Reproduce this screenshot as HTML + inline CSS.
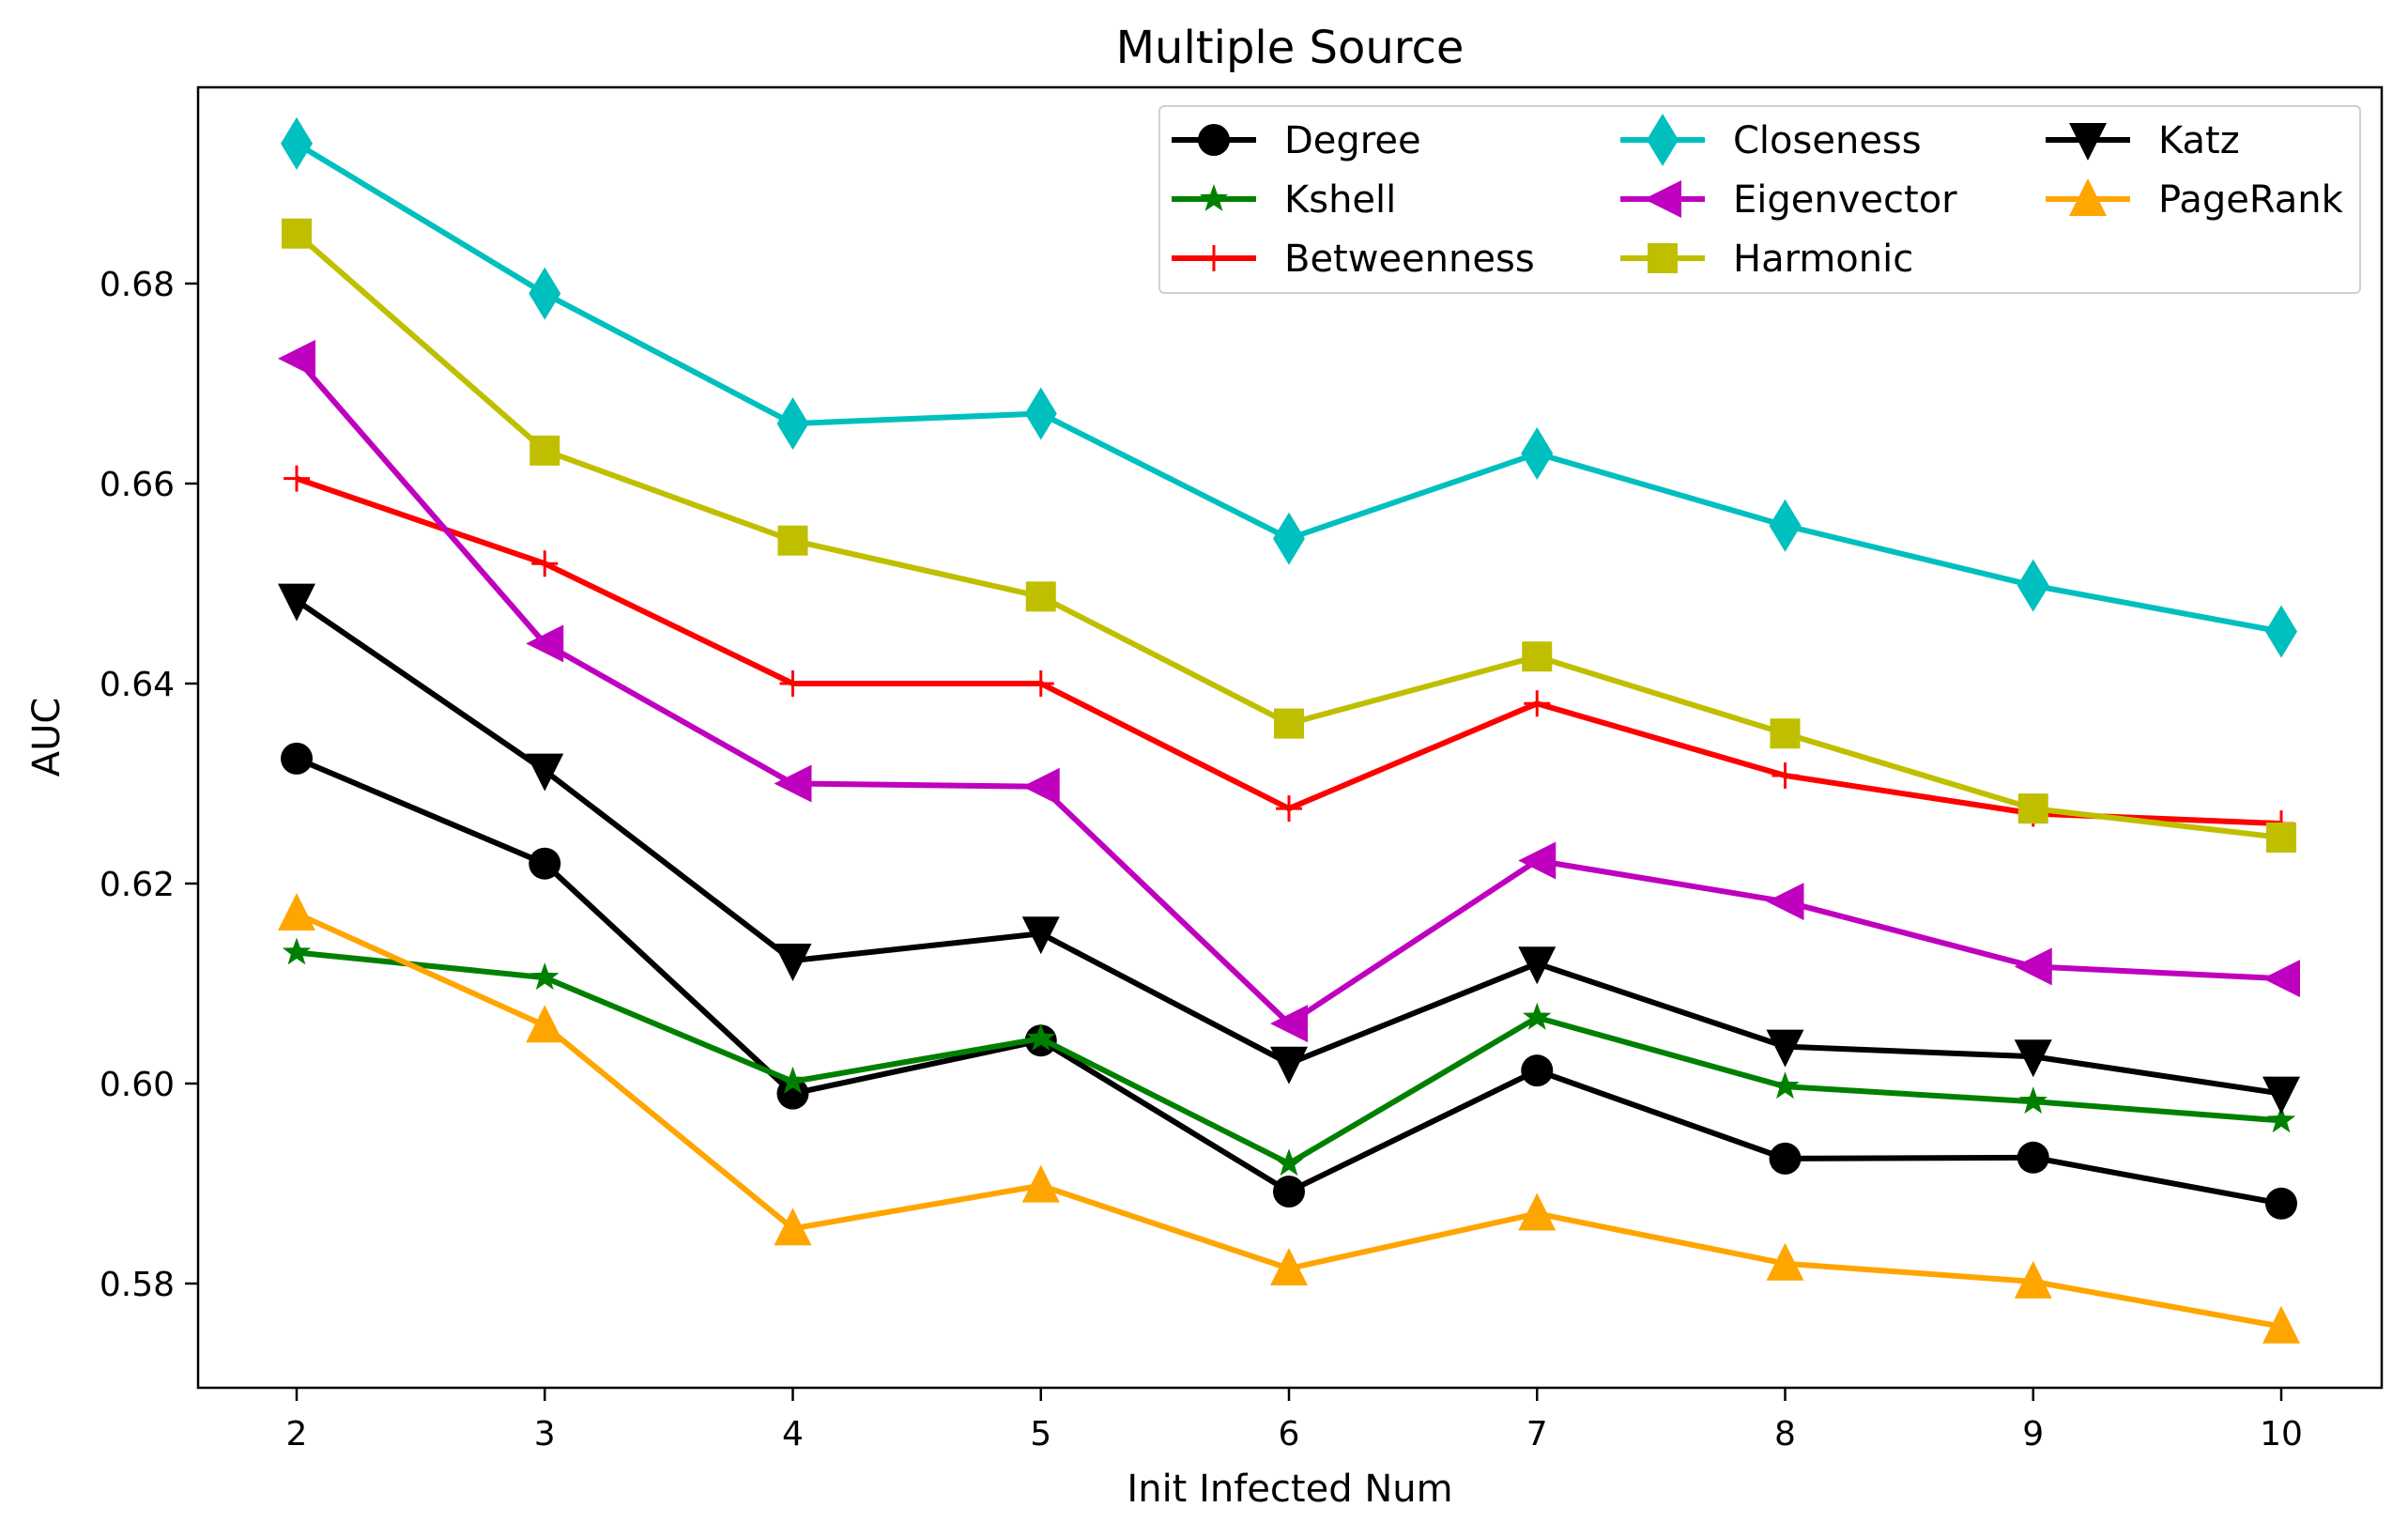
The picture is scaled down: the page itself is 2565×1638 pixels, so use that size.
<!DOCTYPE html>
<html><head><meta charset="utf-8"><style>
html,body{margin:0;padding:0;background:#fff}
svg{display:block;font-family:"DejaVu Sans","Liberation Sans",sans-serif}
</style></head><body>
<svg id="chart" width="2565" height="1638" viewBox="0 0 2565 1638" xmlns="http://www.w3.org/2000/svg">
<rect width="2565" height="1638" fill="#fff"/>
<text x="1374" y="67" font-size="48" text-anchor="middle">Multiple Source</text>
<text x="1374" y="1599" font-size="40" text-anchor="middle">Init Infected Num</text>
<text transform="translate(63,785) rotate(-90)" font-size="40" text-anchor="middle">AUC</text>
<g id="plot"></g>
<rect x="211" y="93" width="2326" height="1385" fill="none" stroke="#000" stroke-width="2.5"/>
<g id="legend"></g>
</svg>
<script>
const xCats = [2,3,4,5,6,7,8,9,10];
const yTicks = [0.58,0.60,0.62,0.64,0.66,0.68];
const yTickLabels = ["0.58","0.60","0.62","0.64","0.66","0.68"];
const degree = [0.6325,0.622,0.599,0.6043,0.5892,0.6013,0.5925,0.5926,0.588];
const kshell = [0.6131,0.6106,0.6002,0.6045,0.592,0.6066,0.5997,0.5982,0.5963];
const betweenness = [0.6605,0.652,0.640,0.640,0.6275,0.638,0.6308,0.627,0.626];
const closeness = [0.694,0.679,0.666,0.667,0.6545,0.663,0.6558,0.6498,0.6452];
const eigenvector = [0.6725,0.644,0.630,0.6297,0.606,0.6223,0.6182,0.6117,0.6105];
const harmonic = [0.685,0.6633,0.6543,0.6487,0.636,0.6427,0.635,0.6275,0.6246];
const katz = [0.6483,0.6313,0.6123,0.615,0.602,0.612,0.6037,0.6027,0.599];
const pagerank = [0.617,0.6058,0.5855,0.5898,0.5815,0.587,0.582,0.5802,0.5757];
const seriesNames = ["Degree","Kshell","Betweenness","Closeness","Eigenvector","Harmonic","Katz","PageRank"];

const NS="http://www.w3.org/2000/svg";
const xs = v => 316 + (v-2)*264.25;
const ys = v => 302 + (0.68-v)*10650;
function mk(tag, attrs, parent){const e=document.createElementNS(NS,tag);for(const k in attrs)e.setAttribute(k,attrs[k]);parent.appendChild(e);return e;}
const svg=document.getElementById('chart');
const plot=document.getElementById('plot');
const leg=document.getElementById('legend');

xCats.forEach(c=>{
  const t=mk('line',{x1:xs(c),x2:xs(c),y1:1478,y2:1492,stroke:'#000','stroke-width':2.5},svg);
  
  
  const l=mk('text',{x:xs(c),y:1539,'font-size':36,'text-anchor':'middle'},svg);
  l.textContent=c;
  
  
});
yTicks.forEach((v,i)=>{
  const t=mk('line',{x1:197,x2:211,y1:ys(v),y2:ys(v),stroke:'#000','stroke-width':2.5},svg);
  
  
  const l=mk('text',{x:186,y:ys(v)+13,'font-size':36,'text-anchor':'end'},svg);
  l.textContent=yTickLabels[i];
  
  
});

function marker(type,x,y,color,parent){
  const s=17;
  let e;
  if(type==='o') e=mk('circle',{cx:x,cy:y,r:s,fill:color},parent);
  else if(type==='s') e=mk('rect',{x:x-s+1,y:y-s+1,width:2*s-2,height:2*s-2,fill:color},parent);
  else if(type==='d') e=mk('polygon',{points:`${x},${y-28} ${x+17},${y} ${x},${y+28} ${x-17},${y}`,fill:color},parent);
  else if(type==='<') e=mk('polygon',{points:`${x-20},${y} ${x+20},${y-20} ${x+20},${y+20}`,fill:color},parent);
  else if(type==='v') e=mk('polygon',{points:`${x-20},${y-18} ${x+20},${y-18} ${x},${y+22}`,fill:color},parent);
  else if(type==='^') e=mk('polygon',{points:`${x-20},${y+18} ${x+20},${y+18} ${x},${y-22}`,fill:color},parent);
  else if(type==='*'){
    let p=[];for(let i=0;i<10;i++){const r=i%2?6.5:16;const a=-Math.PI/2+i*Math.PI/5;p.push((x+r*Math.cos(a)).toFixed(1)+','+(y+r*Math.sin(a)).toFixed(1));}
    e=mk('polygon',{points:p.join(' '),fill:color},parent);
  } else if(type==='+'){
    e=mk('path',{d:`M${x-14},${y}H${x+14}M${x},${y-14}V${y+14}`,stroke:color,'stroke-width':3,fill:'none'},parent);
  }
  return e;
}
const series=[
 {d:degree,c:'#000000',m:'o'},
 {d:kshell,c:'#008000',m:'*'},
 {d:betweenness,c:'#ff0000',m:'+'},
 {d:closeness,c:'#00bfbf',m:'d'},
 {d:eigenvector,c:'#bf00bf',m:'<'},
 {d:harmonic,c:'#bfbf00',m:'s'},
 {d:katz,c:'#000000',m:'v'},
 {d:pagerank,c:'#ffa500',m:'^'}
];
series.forEach((s,i)=>{
  const g=mk('g',{},plot);
  
  
  const pts=s.d.map((v,j)=>xs(xCats[j])+','+ys(v)).join(' ');
  const pl=mk('polyline',{points:pts,fill:'none',stroke:s.c,'stroke-width':6,'stroke-linejoin':'round'},g);
  
  
  s.d.forEach((v,j)=>{
    const mm=marker(s.m,xs(xCats[j]),ys(v),s.c,g);
    
    
  });
});

const box=mk('rect',{x:1235,y:113,width:1279,height:199,rx:5,fill:'#fff',stroke:'#ccc','stroke-width':2,opacity:0.9},leg);


const colX=[1248,1726,2179], rowY=[149,212,275];
series.forEach((s,i)=>{
  const col=Math.floor(i/3), row=i%3;
  const x0=colX[col], y0=rowY[row];
  const g=mk('g',{},leg);
  
  
  mk('line',{x1:x0,x2:x0+90,y1:y0,y2:y0,stroke:s.c,'stroke-width':6},g);
  marker(s.m,x0+45,y0,s.c,g);
  const t=mk('text',{x:x0+120,y:y0+14,'font-size':40},g);
  t.textContent=seriesNames[i];
});
</script>
</body></html>
